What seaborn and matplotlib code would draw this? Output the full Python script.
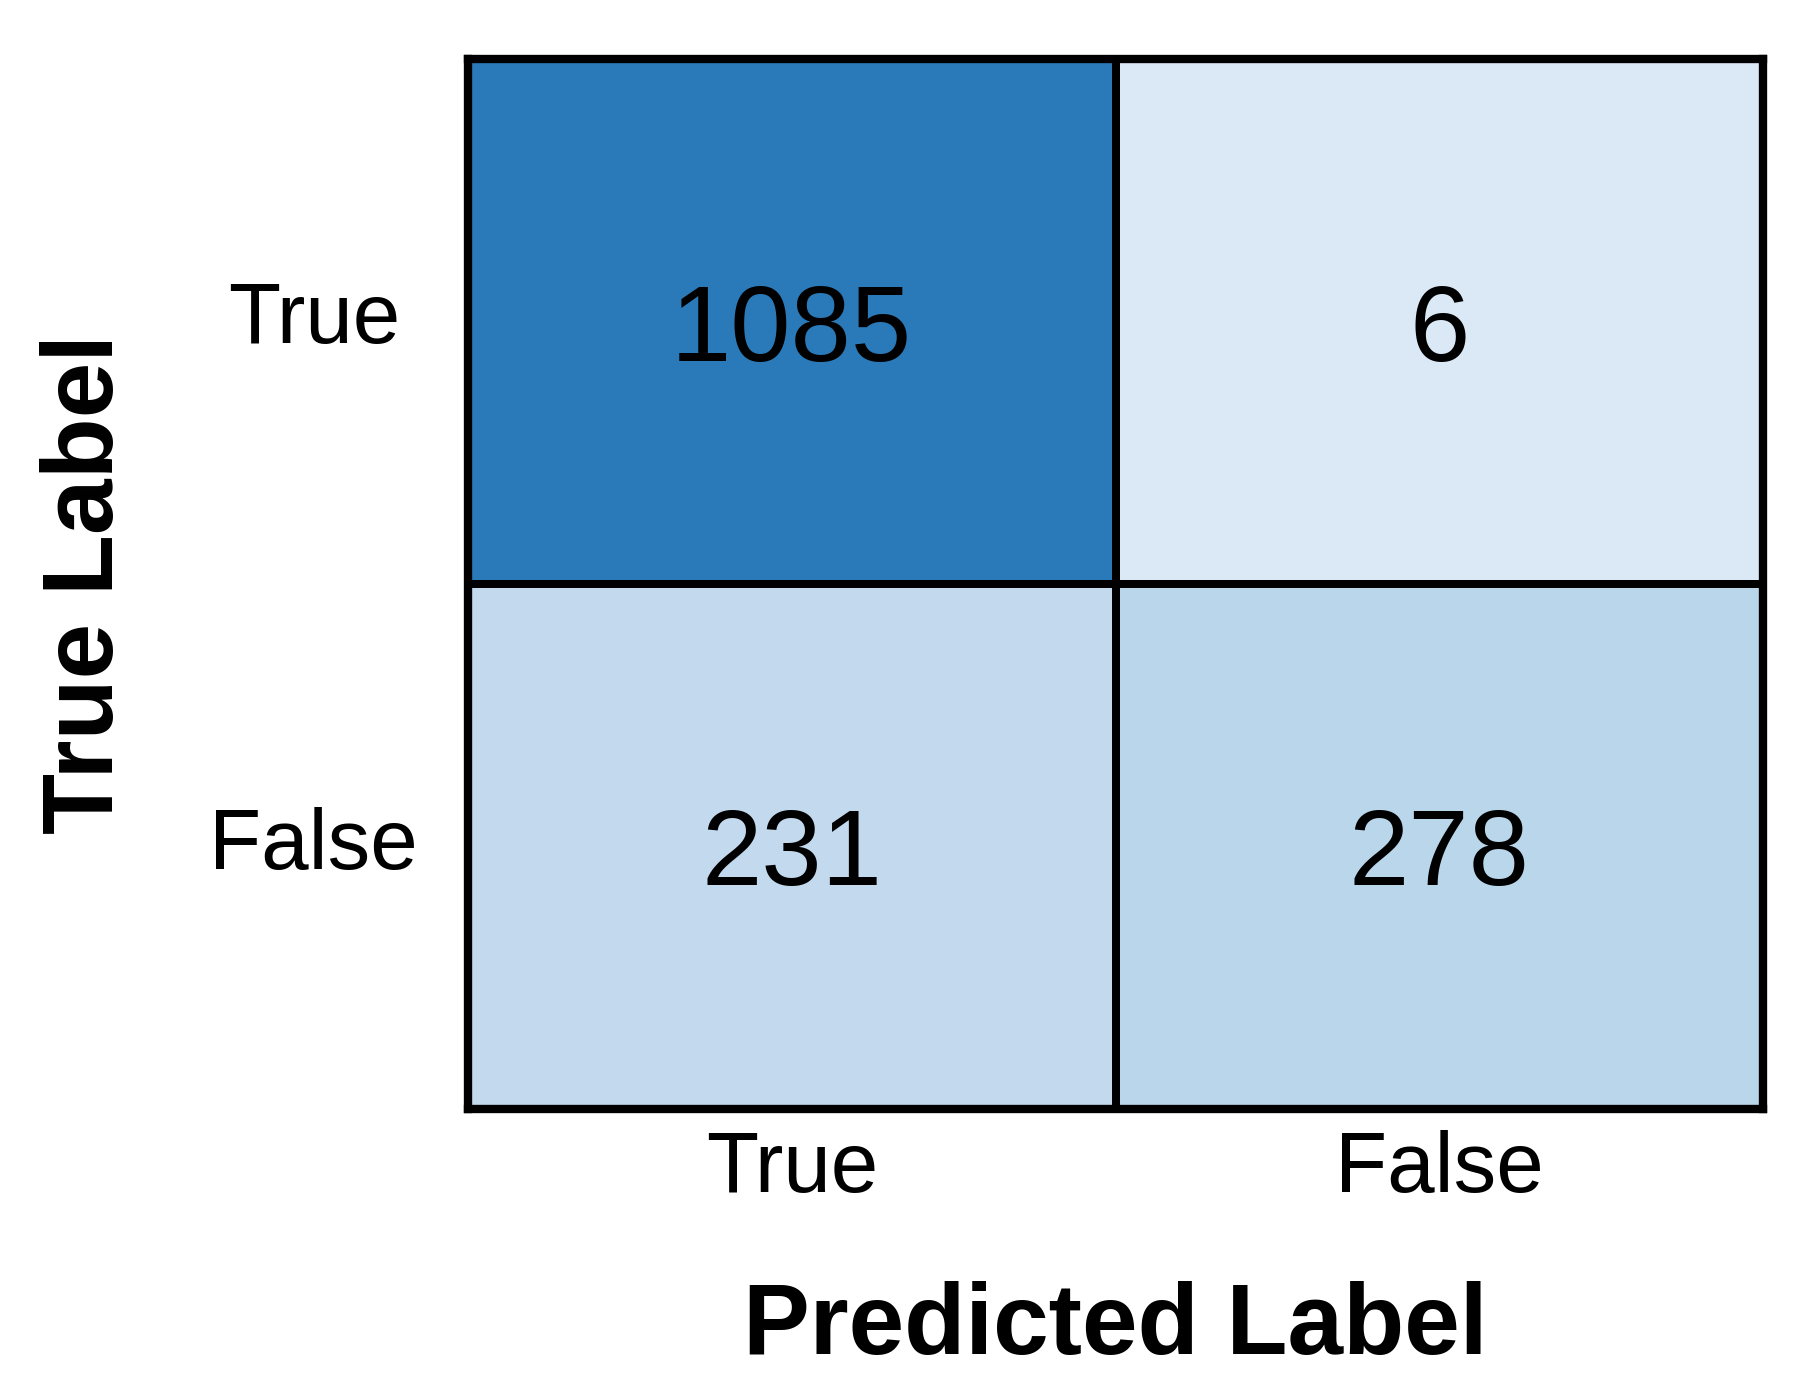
import numpy as np
import pandas as pd
import matplotlib
matplotlib.use("Agg")
import matplotlib.pyplot as plt
import seaborn as sns

true_labels = ["True", "False"]
pred_labels = ["True", "False"]
row_true = [1085, 6]
row_false = [231, 278]

sns.set_theme(style="white")
plt.rcParams['font.family'] = ['Liberation Sans', 'DejaVu Sans']
plt.rcParams['text.color'] = 'black'
plt.rcParams['axes.labelcolor'] = 'black'
plt.rcParams['xtick.color'] = 'black'
plt.rcParams['ytick.color'] = 'black'

cm = pd.DataFrame([row_true, row_false], index=true_labels, columns=pred_labels)

fig = plt.figure(figsize=(1819/300, 1391/300), dpi=300)
ax = fig.add_axes([468/1819, 1 - 1109/1391, (1763-468)/1819, (1109-59)/1391])

sns.heatmap(cm, ax=ax, annot=True, fmt="d", cmap="Blues", vmin=-262, vmax=1620,
            cbar=False, linewidths=1.9, linecolor="black",
            annot_kws={"fontsize": 26, "color": "black"})
for t in ax.texts:
    t.set_va("center_baseline")

for s in ax.spines.values():
    s.set_visible(True)
    s.set_linewidth(2.0)
    s.set_color("black")

ax.tick_params(axis="both", length=0)
ax.tick_params(axis="x", pad=5, labelsize=20.5)
ax.tick_params(axis="y", pad=37, labelsize=20.5)
ax.set_yticklabels(true_labels, rotation=0, ha="center", va="center")
ax.set_xticklabels(pred_labels, rotation=0)

ax.set_xlabel("Predicted Label", fontsize=24, fontweight="bold", labelpad=17)
ax.set_ylabel("True Label", fontsize=24, fontweight="bold", labelpad=18)

fig.savefig("out.png", dpi=300, facecolor="white")
